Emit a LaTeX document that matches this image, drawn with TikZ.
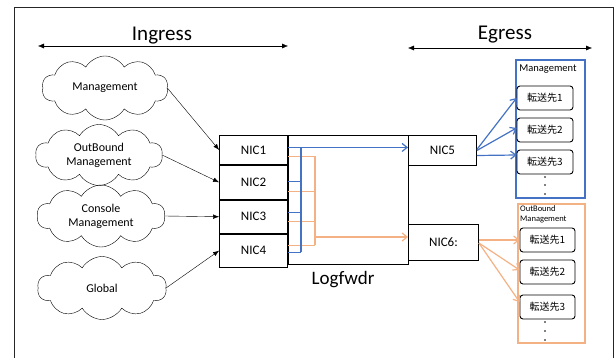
\documentclass[tikz,border=0pt]{standalone}
\usepackage{fontspec}
\setmainfont{Carlito}
\newfontfamily\cjk{Noto Sans CJK JP}
\usetikzlibrary{calc, positioning, arrows.meta, shapes.symbols}

\definecolor{fwdblue}{HTML}{4472C4}
\definecolor{fwdorange}{HTML}{F4B183}

\begin{document}
\begin{tikzpicture}[
  x=1pt, y=-1pt,
  area/.style={cloud, draw, cloud puffs=10, cloud puff arc=120, cloud ignores aspect, inner sep=0pt, align=center, font=\fontsize{12}{14}\selectfont},
  nic/.style={rectangle, draw, line width=0.9pt, minimum width=68pt, minimum height=33pt, font=\fontsize{13}{15}\selectfont},
  dest/.style={rectangle, rounded corners=3pt, draw, line width=0.9pt, minimum width=56pt, minimum height=24pt, font=\cjk\fontsize{10}{12}\selectfont},
  group/.style={rectangle, draw, line width=1.7pt, anchor=north west},
  title/.style={font=\fontsize{21}{25}\selectfont},
  blue line/.style={draw=fwdblue, line width=1.2pt},
  orange line/.style={draw=fwdorange, line width=1.2pt},
  >={Straight Barb[length=5pt, width=8pt]}
]
\useasboundingbox (0,0) rectangle (616,358);

% Frame
\draw[line width=1pt, black!85] (14,358) -- (14,8) -- (613,8) -- (613,358);

% Headings
\node[title] (ingress) at (162,36) {Ingress};
\coordinate (ingl) at (38,46);
\coordinate (ingr) at (288,46);
\draw[{Latex[length=6pt, width=5pt]}-{Latex[length=6pt, width=5pt]}] (ingl) -- (ingr);

\node[title] (egress) at (505,35) {Egress};
\coordinate (egl) at (408,48);
\coordinate (egr) at (592,48);
\draw[{Latex[length=6pt, width=5pt]}-{Latex[length=6pt, width=5pt]}] (egl) -- (egr);

% Sources
\node[area, minimum width=126pt, minimum height=64pt] (mgmt) at (105,88) {Management};
\node[area, minimum width=127pt, minimum height=61pt] (outb) at (99,155) {OutBound\\Management};
\node[area, minimum width=128pt, minimum height=62pt] (cons) at (101,216) {Console\\Management};
\node[area, minimum width=129pt, minimum height=63pt] (glob) at (102,288) {Global};

% Logfwdr with its NICs
\node[draw, line width=0.9pt, minimum width=120pt, minimum height=129pt, anchor=north west] (fwd) at (288,135) {};
\node[font=\fontsize{19}{23}\selectfont] (fwdlbl) at (343,280) {Logfwdr};

\node[nic, minimum height=29pt, anchor=north east] (nic1) at (fwd.north west) {NIC1};
\node[nic, minimum height=34pt, below=0pt of nic1] (nic2) {NIC2};
\node[nic, below=0pt of nic2] (nic3) {NIC3};
\node[nic, below=0pt of nic3] (nic4) {NIC4};

\node[nic, minimum height=30pt, anchor=west] (nic5) at (408,150.5) {NIC5};
\node[nic, minimum width=70pt, minimum height=36pt, anchor=west] (nic6) at (408,242) {NIC6:};

\draw[-{Latex[length=6pt, width=4.5pt]}] (mgmt.east) -- (nic1.west);
\draw[-{Latex[length=6pt, width=4.5pt]}] (outb.east) -- (nic2.west);
\draw[-{Latex[length=6pt, width=4.5pt]}] (cons.east) -- (nic3.west);
\draw[-{Latex[length=6pt, width=4.5pt]}] (glob.east) -- (nic4.west);

% Taps inside Logfwdr
\coordinate (bbus) at (301,0);
\coordinate (obus) at (315,0);
\coordinate (tapb1) at ([yshift=2.5pt]nic1.east);
\coordinate (tapb2) at ([yshift=1pt]nic2.east);
\coordinate (tapb3) at ([yshift=4.5pt]nic3.east);
\coordinate (tapb4) at ([yshift=-1.5pt]nic4.east);
\coordinate (tapo1) at ([yshift=-6.5pt]nic1.east);
\coordinate (tapo2) at ([yshift=-9pt]nic2.east);
\coordinate (tapo3) at ([yshift=-4.5pt]nic3.east);
\coordinate (tapo4) at ([yshift=5.5pt]nic4.east);
\coordinate (tapo6) at ([yshift=5pt]nic6.west);

\foreach \k in {1,2,3,4} {
  \draw[orange line] (tapo\k) -- (tapo\k -| obus);
}
\draw[orange line] (tapo1 -| obus) -- (tapo4 -| obus);
\draw[orange line, ->] (tapo6 -| obus) -- (tapo6);

\foreach \k in {2,3,4} {
  \draw[blue line] (tapb\k) -- (tapb\k -| bbus);
}
\draw[blue line] (tapb1 -| bbus) -- (tapb4 -| bbus);
\draw[blue line, ->] (tapb1) -- (tapb1 -| nic5.west);

% Management destinations
\node[group, draw=fwdblue, minimum width=69pt, minimum height=138pt] (mgrp) at (515,59) {};
\node[font=\fontsize{10.5}{12}\selectfont] (mtitle) at (548,69) {Management};
\foreach \i/\y in {1/98, 2/130, 3/162} {
  \node[dest] (mdst\i) at (545,\y) {転送先\i};
}
\foreach \y in {177,185,194} {
  \fill (545,\y) circle (0.9pt);
}

% OutBound Management destinations
\node[group, draw=fwdorange, minimum width=67pt, minimum height=139pt] (ogrp) at (517,203) {};
\node[font=\fontsize{8.5}{10}\selectfont, align=left, anchor=north west, inner sep=1pt] (otitle) at (519,204) {OutBound\\Management};
\foreach \i/\y in {1/240, 2/272, 3/307} {
  \node[dest, minimum width=55pt] (odst\i) at (547.5,\y) {転送先\i};
}
\foreach \y in {322,331,340} {
  \fill (545,\y) circle (0.9pt);
}

\draw[blue line, ->] ([yshift=1pt]nic5.east) -- (mdst1.west);
\draw[blue line, ->] (nic5.east) -- ([yshift=2pt]mdst2.west);
\draw[blue line, ->] ([yshift=-5pt]nic5.east) -- ([yshift=7pt]mdst3.west);

\draw[orange line, ->] ([yshift=2pt]nic6.east) -- (odst1.west);
\draw[orange line, ->] ([yshift=-1pt]nic6.east) -- ([yshift=2pt]odst2.west);
\draw[orange line, ->] ([yshift=-1pt]nic6.east) -- ([yshift=5pt]odst3.west);

\end{tikzpicture}
\end{document}
